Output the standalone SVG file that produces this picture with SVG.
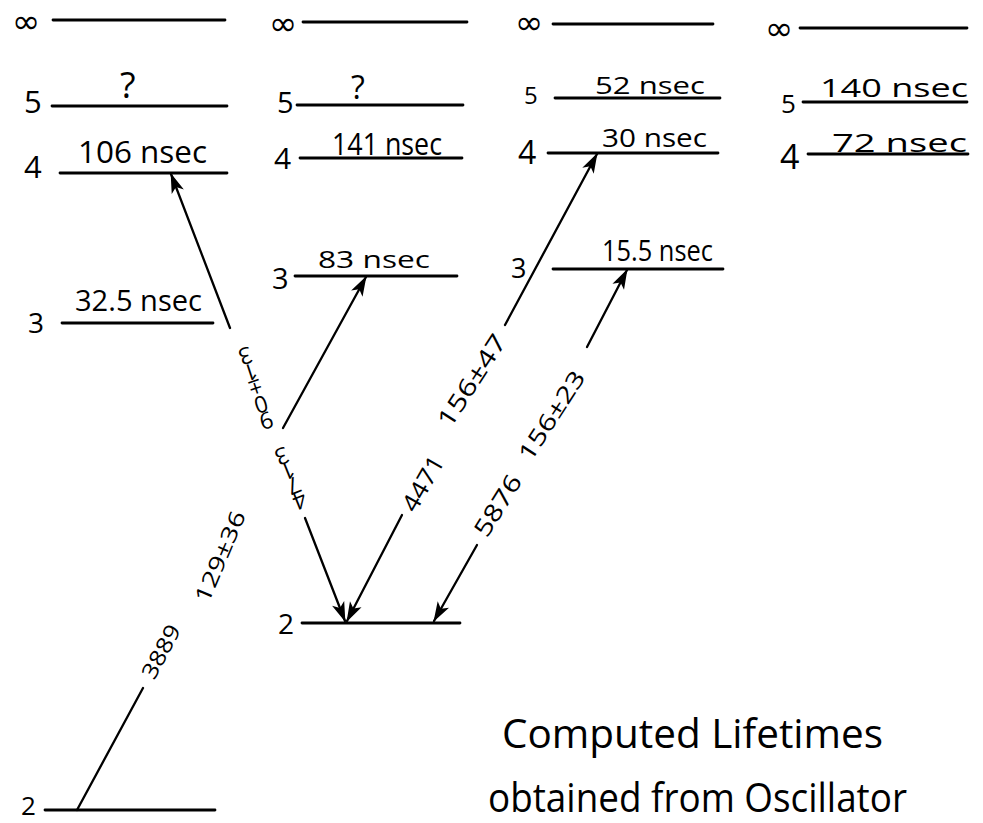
<svg xmlns="http://www.w3.org/2000/svg" width="983" height="823" viewBox="0 0 983 823">
<defs>
<style>
.bg{fill:#fff}
.lv{stroke:#000;stroke-width:2.8;stroke-linecap:round;fill:none}
.ar{stroke:#000;stroke-width:2.3;stroke-linecap:round;fill:none}
.t{font-family:"Open Sans","Liberation Sans",sans-serif;fill:#000}
.inf{font-family:"DejaVu Sans",sans-serif;fill:#000;font-size:34px}
.rl{font-family:"Open Sans","Liberation Sans",sans-serif;fill:#000;dominant-baseline:central;text-anchor:middle}
</style>
<marker id="ah" markerUnits="userSpaceOnUse" markerWidth="22" markerHeight="14" refX="19" refY="7" orient="auto">
<path d="M0,0.5 L20,7 L0,13.5 L5,7 Z" fill="#000"/>
</marker>
</defs>
<rect class="bg" x="0" y="0" width="983" height="823"/>

<!-- Column 1 -->
<g id="c1-inf"><text class="inf" x="12" y="33">∞</text><line class="lv" x1="53" y1="20" x2="225" y2="20"/></g>
<g id="c1-5"><text class="t" x="24" y="113" font-size="31">5</text><line class="lv" x1="52" y1="106" x2="227" y2="106"/><text class="t" x="120" y="98" font-size="36">?</text></g>
<g id="c1-4"><text class="t" x="24" y="178" font-size="31">4</text><line class="lv" x1="60" y1="173" x2="227" y2="173"/><text class="t" x="78" y="163" font-size="31" textLength="129" lengthAdjust="spacingAndGlyphs">106 nsec</text></g>
<g id="c1-3"><text class="t" x="28" y="333" font-size="28">3</text><line class="lv" x1="62" y1="323" x2="213" y2="323"/><text class="t" x="75" y="311" font-size="30" textLength="127" lengthAdjust="spacingAndGlyphs">32.5 nsec</text></g>
<g id="c1-2"><text class="t" x="21" y="815" font-size="26">2</text><line class="lv" x1="45" y1="810" x2="215" y2="810"/></g>

<!-- Column 2 -->
<g id="c2-inf"><text class="inf" x="269" y="35">∞</text><line class="lv" x1="303" y1="22" x2="467" y2="22"/></g>
<g id="c2-5"><text class="t" x="277" y="113" font-size="29">5</text><line class="lv" x1="297" y1="105" x2="463" y2="105"/><text class="t" x="351" y="99" font-size="32" fill="#444">?</text></g>
<g id="c2-4"><text class="t" x="274" y="169" font-size="30">4</text><line class="lv" x1="300" y1="158" x2="462" y2="158"/><text class="t" x="332" y="155" font-size="31" textLength="110" lengthAdjust="spacingAndGlyphs">141 nsec</text></g>
<g id="c2-3"><text class="t" x="272" y="289" font-size="29">3</text><line class="lv" x1="295" y1="276" x2="457" y2="276"/><text class="t" x="318" y="268" font-size="24" textLength="112" lengthAdjust="spacingAndGlyphs">83 nsec</text></g>
<g id="c2-2"><text class="t" x="278" y="634" font-size="28">2</text><line class="lv" x1="302" y1="623" x2="460" y2="623"/></g>

<!-- Column 3 -->
<g id="c3-inf"><text class="inf" x="515" y="34">∞</text><line class="lv" x1="553" y1="24" x2="713" y2="24"/></g>
<g id="c3-5"><text class="t" x="524" y="104" font-size="24">5</text><line class="lv" x1="555" y1="98" x2="720" y2="98"/><text class="t" x="595" y="94" font-size="24" textLength="110" lengthAdjust="spacingAndGlyphs">52 nsec</text></g>
<g id="c3-4"><text class="t" x="518" y="164" font-size="32">4</text><line class="lv" x1="548" y1="153" x2="718" y2="153"/><text class="t" x="602" y="147" font-size="26" textLength="105" lengthAdjust="spacingAndGlyphs">30 nsec</text></g>
<g id="c3-3"><text class="t" x="511" y="278" font-size="27">3</text><line class="lv" x1="553" y1="269" x2="723" y2="269"/><text class="t" x="602" y="261" font-size="29" textLength="111" lengthAdjust="spacingAndGlyphs">15.5 nsec</text></g>

<!-- Column 4 -->
<g id="c4-inf"><text class="inf" x="765" y="40">∞</text><line class="lv" x1="800" y1="28" x2="967" y2="28"/></g>
<g id="c4-5"><text class="t" x="781" y="113" font-size="26">5</text><line class="lv" x1="803" y1="102" x2="967" y2="102"/><text class="t" x="820" y="97" font-size="26" textLength="148" lengthAdjust="spacingAndGlyphs">140 nsec</text></g>
<g id="c4-4"><text class="t" x="780" y="169" font-size="34">4</text><line class="lv" x1="808" y1="154" x2="968" y2="154"/><text class="t" x="832" y="152" font-size="26" textLength="135" lengthAdjust="spacingAndGlyphs">72 nsec</text></g>

<!-- Connectors -->
<g id="connectors">
<line class="ar" x1="230" y1="328" x2="171" y2="174" marker-end="url(#ah)"/>
<line class="ar" x1="305" y1="518" x2="345" y2="621" marker-end="url(#ah)"/>
<line class="ar" x1="283" y1="428" x2="366" y2="277" marker-end="url(#ah)"/>
<line class="ar" x1="402" y1="515" x2="347" y2="621" marker-end="url(#ah)"/>
<line class="ar" x1="505" y1="325" x2="597" y2="154" marker-end="url(#ah)"/>
<line class="ar" x1="477" y1="545" x2="434" y2="621" marker-end="url(#ah)"/>
<line class="ar" x1="587" y1="347" x2="627" y2="270" marker-end="url(#ah)"/>
<line class="ar" x1="77" y1="810" x2="143" y2="688"/>
</g>

<!-- Connector labels -->
<g id="connector-labels">
<text class="rl" font-size="23" transform="translate(256,389) rotate(162)" x="0 0 0 0 0" y="-34 -17 0 17 34">90±13</text>
<text class="rl" font-size="23" transform="translate(291,479) rotate(158)" x="0 0 0 0" y="-24 -8 8 24">4713</text>
<text class="rl" font-size="22" transform="translate(160,651) rotate(-62)" textLength="58" lengthAdjust="spacingAndGlyphs">3889</text>
<text class="rl" font-size="22" transform="translate(219,556) rotate(-67)" textLength="97" lengthAdjust="spacingAndGlyphs">129±36</text>
<text class="rl" font-size="24" transform="translate(422,483) rotate(-60)" textLength="60" lengthAdjust="spacingAndGlyphs">4471</text>
<text class="rl" font-size="24" transform="translate(471,380) rotate(-57)" textLength="105" lengthAdjust="spacingAndGlyphs">156±47</text>
<text class="rl" font-size="24" transform="translate(497,505) rotate(-58)" textLength="68" lengthAdjust="spacingAndGlyphs">5876</text>
<text class="rl" font-size="23" transform="translate(551,415) rotate(-57)" textLength="102" lengthAdjust="spacingAndGlyphs">156±23</text>
</g>

<!-- Caption -->
<g id="caption">
<text class="t" x="502" y="748" font-size="40" textLength="381" lengthAdjust="spacingAndGlyphs">Computed Lifetimes</text>
<text class="t" x="488" y="812" font-size="40" textLength="419" lengthAdjust="spacingAndGlyphs">obtained from Oscillator</text>
</g>
</svg>
